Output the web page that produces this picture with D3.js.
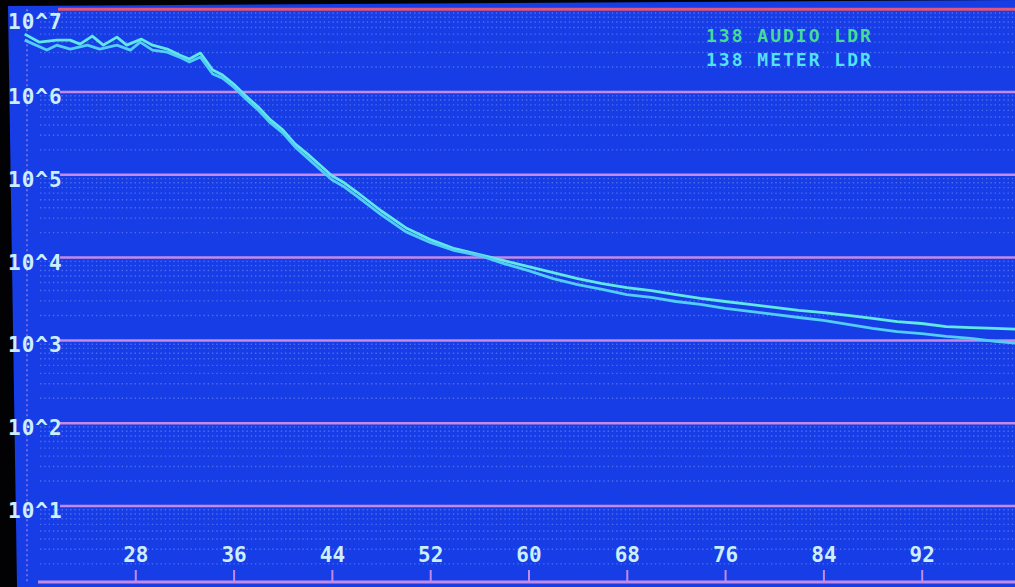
<!DOCTYPE html>
<html>
<head>
<meta charset="utf-8">
<script src="https://d3js.org/d3.v7.min.js"></script>
<style>
    body { margin: 0; background: #000; }
    svg { display: block; }
    .lbl { font-family: "DejaVu Sans Mono", monospace; font-weight: bold; fill: #cdeeff; }
    .legend { font-family: "DejaVu Sans Mono", monospace; font-weight: bold; font-size: 18px; letter-spacing: 2px; }
    .line { fill: none; stroke-width: 2.8px; stroke-linejoin: round; }
</style>
</head>
<body>
<script>
    // data (x = channel/setting, y = resistance)
    var audioX = [19, 20.2, 21.6, 22.7, 23.5, 24.5, 25.4, 26.5, 27.3, 28.5, 29.4, 30.6, 31.6, 32.4, 33.3, 34.3, 35.1,
        36, 37, 38, 39, 40, 41, 42, 43, 44, 45, 46, 48, 50, 52, 54, 56, 58, 60, 62, 64, 66, 68, 70,
        72, 74, 76, 78, 80, 82, 84, 86, 88, 90, 92, 94, 96, 98, 100];
    var audioY = [5.0e6, 4.0e6, 4.23e6, 4.23e6, 3.79e6, 4.73e6, 3.68e6, 4.6e6, 3.68e6, 4.35e6, 3.68e6, 3.3e6, 2.79e6, 2.5e6, 2.95e6, 1.84e6, 1.6e6,
        1.25e6, 8.95e5, 6.6e5, 4.6e5, 3.48e5, 2.36e5, 1.79e5, 1.32e5, 9.72e4, 8.01e4, 6.24e4, 3.68e4, 2.3e4, 1.65e4, 1.28e4, 1.09e4, 9.2e3, 7.79e3, 6.6e3, 5.58e3, 4.86e3, 4.35e3, 4.0e3,
        3.58e3, 3.21e3, 2.95e3, 2.72e3, 2.5e3, 2.3e3, 2.17e3, 2.0e3, 1.84e3, 1.69e3, 1.6e3, 1.47e3, 1.43e3, 1.4e3, 1.36e3];

    var meterX = [19, 20.8, 21.6, 22.7, 24.1, 25.1, 26.5, 27.6, 28.4, 29.4, 30.6, 31.6, 32.4, 33.3, 34.3, 35.1,
        36, 37, 38, 39, 40, 41, 42, 43, 44, 45, 46, 48, 50, 52, 54, 56, 58, 60, 62, 64, 66, 68, 70,
        72, 74, 76, 78, 80, 82, 84, 86, 88, 90, 92, 94, 96, 98, 100];
    var meterY = [4.23e6, 3.21e6, 3.68e6, 3.3e6, 3.68e6, 3.3e6, 3.68e6, 3.21e6, 4.0e6, 3.21e6, 3.03e6, 2.64e6, 2.3e6, 2.64e6, 1.65e6, 1.47e6,
        1.15e6, 8.24e5, 6.07e5, 4.23e5, 3.21e5, 2.17e5, 1.6e5, 1.18e5, 8.71e4, 7.17e4, 5.58e4, 3.3e4, 2.06e4, 1.52e4, 1.21e4, 1.06e4, 8.47e3, 6.97e3, 5.58e3, 4.73e3, 4.12e3, 3.58e3, 3.3e3,
        2.95e3, 2.72e3, 2.43e3, 2.24e3, 2.06e3, 1.89e3, 1.74e3, 1.56e3, 1.4e3, 1.28e3, 1.21e3, 1.12e3, 1.06e3, 973, 920];

    var xTicks = [28, 36, 44, 52, 60, 68, 76, 84, 92];
    var decades = [1e1, 1e2, 1e3, 1e4, 1e5, 1e6, 1e7];
    var legendNames = ["138 AUDIO LDR", "138 METER LDR"];
    var seriesColors = ["#62e8e4", "#52ccf8"];
    var legendColors = ["#45dc96", "#52e2f2"];

    var width = 1015, height = 587;

    var x = d3.scaleLinear().domain([20, 100]).range([37, 1020]);
    var y = d3.scaleLog().domain([1, 1e7]).range([588.8, 9.2]);

    var svg = d3.select("body").append("svg")
        .attr("width", width)
        .attr("height", height);

    // screen (black bezel + blue display)
    svg.append("rect").attr("width", width).attr("height", height).attr("fill", "#020204");
    svg.append("polygon")
        .attr("points", "8,6 1015,0 1015,587 17,587")
        .attr("fill", "#163de6");

    // minor log grid rows, dotted
    var minors = [];
    for (var d = 1; d < 1e7; d *= 10) {
        for (var m = 2; m <= 9; m++) minors.push(d * m);
    }
    svg.selectAll(".minor")
        .data(minors)
        .enter().append("line")
        .attr("class", "minor")
        .attr("x1", 40).attr("x2", width)
        .attr("y1", function(d) { return y(d); })
        .attr("y2", function(d) { return y(d); })
        .attr("stroke", "#b9c6ff")
        .attr("stroke-opacity", 0.35)
        .attr("stroke-width", 1.4)
        .attr("stroke-dasharray", "1.4,2.9");

    // left dotted axis
    svg.append("line")
        .attr("x1", 27).attr("x2", 27)
        .attr("y1", y(1e7)).attr("y2", 582)
        .attr("stroke", "#c48ae6")
        .attr("stroke-opacity", 0.55)
        .attr("stroke-width", 2)
        .attr("stroke-dasharray", "2,3");

    // decade grid lines (top one is red)
    svg.selectAll(".major")
        .data(decades)
        .enter().append("line")
        .attr("class", "major")
        .attr("x1", function(d) { return d == 1e7 ? 58 : 60; })
        .attr("x2", width)
        .attr("y1", function(d) { return y(d); })
        .attr("y2", function(d) { return y(d); })
        .attr("stroke", function(d) { return d == 1e7 ? "#e2567a" : "#c48ae6"; })
        .attr("stroke-width", function(d) { return d == 1e7 ? 3 : 2.5; });

    // decade labels
    svg.selectAll(".ylab")
        .data(decades)
        .enter().append("text")
        .attr("class", "lbl")
        .attr("x", 8)
        .attr("y", function(d) { return Math.max(y(d), 17) + 12; })
        .style("font-size", "21px")
        .style("letter-spacing", "1px")
        .text(function(d) { return "10^" + Math.round(Math.log10(d)); });

    // bottom axis with upward ticks
    var xAxis = svg.append("g")
        .attr("transform", "translate(0,582)")
        .call(d3.axisTop(x).tickValues(xTicks).tickSize(12).tickPadding(8).tickFormat(d3.format("d")));
    xAxis.select(".domain").remove();
    xAxis.selectAll(".tick line").attr("stroke", "#c48ae6").attr("stroke-width", 2);
    xAxis.selectAll(".tick text").attr("class", "lbl").style("font-size", "21px").attr("fill", "#cdeeff");
    svg.append("line")
        .attr("x1", 38).attr("x2", width)
        .attr("y1", 582).attr("y2", 582)
        .attr("stroke", "#c48ae6")
        .attr("stroke-width", 3);

    // curves
    var line = d3.line()
        .x(function(d) { return x(d[0]); })
        .y(function(d) { return y(d[1]); });

    var series = [d3.zip(audioX, audioY), d3.zip(meterX, meterY)];
    svg.selectAll(".line")
        .data(series)
        .enter().append("path")
        .attr("class", "line")
        .attr("stroke", function(d, i) { return seriesColors[i]; })
        .attr("d", line);

    // legend
    svg.selectAll(".legend")
        .data(legendNames)
        .enter().append("text")
        .attr("class", "legend")
        .attr("x", 706)
        .attr("y", function(d, i) { return 42 + i * 24; })
        .attr("fill", function(d, i) { return legendColors[i]; })
        .text(function(d) { return d; });
</script>
</body>
</html>
